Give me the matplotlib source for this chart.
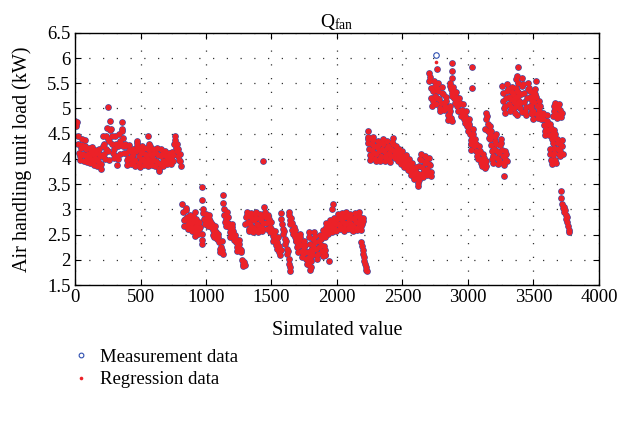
import numpy as np
import matplotlib
matplotlib.use("Agg")
import matplotlib.pyplot as plt
from matplotlib.lines import Line2D

plt.rcParams['font.family'] = ['Liberation Serif', 'DejaVu Serif']
plt.rcParams['mathtext.fontset'] = 'custom'
plt.rcParams['mathtext.rm'] = 'Liberation Serif'
plt.rcParams['mathtext.it'] = 'Liberation Serif:italic'

STEP = 5  # spacing of listed samples along the x axis

# ---- data (y values, kW) ----
seg_a = [4.76, 4.70, 4.66, 4.73,
         4.45, 4.30, 4.12, 3.98, 4.05, 4.22, 4.40, 4.28, 4.10, 3.96, 4.08, 4.25, 4.38, 4.20, 4.02, 3.94, 4.10,
         4.22, 4.05, 3.92, 4.00, 4.15, 4.24, 4.10, 3.95, 3.88, 4.02, 4.18, 4.12, 3.97, 3.86, 3.95, 4.10, 4.20, 4.05, 3.90, 3.80,
         4.05, 4.25, 4.45, 4.30, 4.10, 4.00,
         4.20, 4.45, 4.62, 4.40, 4.15, 4.35, 4.58, 4.75, 4.60, 4.45, 4.30, 4.12, 4.02,
         4.20, 4.45, 4.30, 4.05, 3.88, 4.00, 4.25, 4.50, 4.35, 4.10,
         4.30, 4.55, 4.60, 4.42, 4.25, 4.12, 4.30,
         4.25, 4.12, 3.98, 3.88, 4.02, 4.18, 4.28, 4.15, 4.00, 3.90, 4.05, 4.20, 4.10, 3.95, 3.86, 3.98, 4.15, 4.25,
         4.32, 4.20, 4.05, 3.92, 3.84, 3.98, 4.12, 4.25, 4.15, 4.00, 3.88, 3.95, 4.10, 4.22, 4.08, 3.92,
         3.86, 4.00, 4.18, 4.25, 4.10, 3.95, 3.88, 4.05, 4.20, 4.12, 3.98, 3.86, 3.95, 4.12, 4.22,
         4.08, 3.92, 3.80, 3.76, 3.90, 4.05, 4.20, 4.10, 3.95, 3.85,
         3.95, 4.08, 4.15, 4.05, 3.92, 3.90, 4.00, 4.12, 4.06, 3.95, 3.90, 4.02, 4.14, 4.08, 3.96,
         4.30, 4.45, 4.38, 4.22, 4.15, 4.30, 4.20, 4.05, 3.98, 4.10, 3.95, 3.86]
seg_b = [3.10, 2.95, 2.78, 2.68, 2.80, 2.98, 3.02, 2.85, 2.70,
         2.62, 2.75, 2.88, 2.80, 2.66, 2.58, 2.72, 2.86,
         2.78, 2.64, 2.55, 2.68, 2.80, 2.72, 2.60, 2.52, 2.62, 2.74, 2.66]
seg_c = [3.00, 2.92, 2.80, 2.70, 2.78, 2.90, 2.85, 2.72, 2.68, 2.80, 2.88, 2.76, 2.66, 2.72,
         2.70, 2.60, 2.50, 2.45, 2.58, 2.68, 2.55, 2.45, 2.42, 2.52,
         2.45, 2.35, 2.22, 2.15, 2.25, 2.38, 2.20, 2.12]
seg_d = [3.00, 2.88, 2.75, 2.68, 2.80, 2.95, 2.85, 2.72,
         2.65, 2.55, 2.45, 2.52, 2.65, 2.70, 2.58, 2.46, 2.40, 2.50,
         2.44, 2.35, 2.25, 2.18, 2.28, 2.40, 2.32, 2.22, 2.16, 2.20,
         2.00, 1.92, 1.88, 1.95, 1.90]
seg_e = [2.70, 2.85, 2.95, 2.88, 2.75, 2.62, 2.58, 2.70, 2.85, 2.92, 2.80, 2.66, 2.56, 2.64, 2.78,
         2.90, 2.95, 2.82, 2.70, 2.60, 2.55, 2.68, 2.82, 2.90, 2.78, 2.64, 2.58, 2.72, 2.86]
seg_f = [3.05, 2.95, 2.85, 2.72, 2.62, 2.75, 2.88, 2.80, 2.66, 2.56, 2.62, 2.74,
         2.60, 2.48, 2.38, 2.50, 2.58, 2.42, 2.30, 2.22, 2.35, 2.45, 2.28, 2.15, 2.10, 2.20]
seg_g = [2.92, 2.80, 2.70, 2.62, 2.52, 2.58, 2.42, 2.32, 2.38, 2.22, 2.12, 2.18, 2.02, 1.92, 1.85, 1.78]
seg_h = [2.95, 2.88, 2.78, 2.70, 2.82, 2.72, 2.60, 2.52, 2.65, 2.55, 2.45, 2.38, 2.50, 2.42, 2.32, 2.28, 2.40]
seg_i = [2.60, 2.50, 2.38, 2.25, 2.15, 2.28, 2.40, 2.52, 2.45, 2.30, 2.18, 2.05, 2.12, 2.25, 2.38, 2.30,
         2.15, 2.02, 1.92, 2.00, 2.15, 2.05, 1.90, 1.80, 1.85, 1.98, 2.10]
seg_j = [2.55, 2.45, 2.32, 2.20, 2.08, 2.15, 2.28, 2.42, 2.55, 2.48, 2.35, 2.22, 2.10, 2.02, 2.12, 2.25,
         2.38, 2.50, 2.42, 2.30, 2.18, 2.08, 2.15, 2.28, 2.20, 2.10]
seg_k = [2.45, 2.52, 2.60, 2.50, 2.46, 2.55, 2.65, 2.72, 2.60, 2.52, 2.58, 2.68, 2.78, 2.70, 2.60, 2.56,
         2.66, 2.76, 2.82, 2.72, 2.62, 2.58, 2.70, 2.80]
seg_l = [2.90, 2.82, 2.70, 2.62, 2.68, 2.80, 2.92, 2.88, 2.75, 2.64, 2.58, 2.70, 2.84, 2.95, 2.86, 2.72,
         2.62, 2.66, 2.78, 2.90, 2.82, 2.70, 2.60, 2.57, 2.68, 2.80, 2.92, 2.85, 2.74, 2.64, 2.60, 2.72,
         2.86, 2.94, 2.80, 2.68, 2.60, 2.70, 2.82, 2.76]
seg_m = [2.35, 2.28, 2.20, 2.12, 2.05, 1.98, 1.92, 1.86, 1.80, 1.78]
seg_n = [4.40, 4.32, 4.20, 4.08, 3.98, 4.05, 4.18, 4.30, 4.38, 4.25, 4.12, 4.00, 3.96, 4.10, 4.24, 4.35,
         4.28, 4.15, 4.02, 3.95, 4.05, 4.20, 4.32, 4.40, 4.30, 4.16, 4.04, 3.96, 4.08, 4.22, 4.36, 4.26,
         4.12, 4.00, 3.94, 4.06, 4.20, 4.34, 4.42, 4.30, 4.15, 4.02, 4.10]
seg_o = [4.25, 4.15, 4.02, 3.95, 4.08, 4.20, 4.12, 3.98, 3.90, 4.02, 4.15, 4.05, 3.92, 3.84, 3.96, 4.08,
         3.98, 3.86, 3.78, 3.90, 4.00, 3.88, 3.76, 3.68, 3.80, 3.92, 3.82, 3.70, 3.60, 3.72, 3.84, 3.74,
         3.62, 3.52, 3.46, 3.58, 3.68]
seg_p = [3.70, 3.85, 4.00, 4.10, 3.98, 3.84, 3.72, 3.65, 3.78, 3.92, 4.05, 3.95, 3.80, 3.68, 3.75, 3.90,
         4.02, 3.88, 3.74, 3.66]
seg_q = [5.55, 5.70, 5.62, 5.40, 5.20, 5.05, 5.15, 5.35, 5.55, 5.45, 5.25, 5.08, 5.20,
         5.40, 5.50, 5.35, 5.18, 5.00, 4.95, 5.10, 5.30, 5.42, 5.28, 5.10, 4.98, 5.05, 5.22,
         5.15, 5.00, 4.88, 4.78, 4.90, 5.05, 4.95, 4.82, 4.76]
seg_r = [5.45, 5.50, 5.38, 5.25, 5.30, 5.42, 5.35, 5.20, 5.10, 5.22, 5.32, 5.18, 5.05, 4.95, 5.08, 5.20,
         5.10, 4.96, 4.85, 4.98, 5.08, 4.92, 4.80, 4.72, 4.85, 4.95, 4.80, 4.65, 4.55, 4.70]
seg_s = [4.80, 4.65, 4.50, 4.38, 4.30, 4.45, 4.60, 4.50, 4.35, 4.25, 4.40, 4.30, 4.15, 4.05, 4.00, 4.12,
         4.25, 4.15, 4.00, 3.92, 3.85, 3.98, 4.10, 4.02, 3.90, 3.82, 3.86, 3.95]
seg_t = [4.60, 4.80, 4.92, 4.85, 4.70, 4.55, 4.42, 4.50, 4.65, 4.55, 4.45]
seg_u = [4.40, 4.28, 4.15, 4.00, 3.92, 4.05, 4.20, 4.35, 4.45, 4.30, 4.15, 4.02, 3.90, 3.98, 4.12, 4.28,
         4.40, 4.32, 4.18, 4.05, 3.92, 3.88, 4.00, 4.15, 4.10, 3.95]
seg_v = [5.45, 5.30, 5.15, 5.00, 4.92, 5.05, 5.20, 5.35, 5.48, 5.38, 5.22, 5.08, 4.95, 5.02, 5.18, 5.32,
         5.42, 5.28, 5.12, 5.00, 4.92, 5.05, 5.22, 5.35, 5.25, 5.10]
seg_w = [5.20, 5.40, 5.58, 5.65, 5.50, 5.32, 5.15, 5.00, 5.10, 5.28, 5.45, 5.60, 5.48, 5.30, 5.12, 4.95,
         4.88, 5.02, 5.20, 5.38, 5.50, 5.40, 5.22, 5.05, 4.92, 5.00, 5.15, 5.30, 5.22]
seg_x = [5.35, 5.20, 5.05, 4.90, 4.80, 4.95, 5.12, 5.28, 5.38, 5.22, 5.05, 4.90, 4.82, 4.98, 5.15, 5.05,
         4.90, 4.80, 4.85, 4.92, 4.80, 4.68, 4.55, 4.48, 4.60, 4.75, 4.88, 4.70, 4.58, 4.48, 4.60, 4.70,
         4.62, 4.50, 4.40, 4.32, 4.45, 4.58, 4.50]
seg_y = [4.85, 4.95, 5.05, 5.10, 5.02, 4.90, 4.82, 4.88, 5.00, 5.08, 4.98, 4.88, 4.84, 4.92]
seg_z1 = [4.20, 4.10, 3.98, 3.90, 3.95, 4.08, 4.22, 4.12, 3.98, 3.92]
seg_z2 = [4.40, 4.32, 4.20, 4.10, 4.05, 4.15, 4.28, 4.38, 4.25, 4.10]
seg_z3 = [3.10, 3.02, 2.95, 3.05, 2.98, 2.88, 2.80, 2.85, 2.75, 2.68, 2.60, 2.56]

seg_values = [seg_a, seg_b, seg_c, seg_d, seg_e, seg_f, seg_g, seg_h, seg_i, seg_j, seg_k, seg_l, seg_m,
              seg_n, seg_o, seg_p, seg_q, seg_r, seg_s, seg_t, seg_u, seg_v, seg_w, seg_x, seg_y,
              seg_z1, seg_z2, seg_z3]
seg_starts = [0, 820, 975, 1135, 1300, 1445, 1570, 1630, 1680, 1785, 1885, 2005, 2185,
              2235, 2450, 2625, 2700, 2860, 3005, 3130, 3170, 3260, 3360, 3475, 3650,
              3625, 3680, 3720]

# isolated points (both series)
iso_x = [255, 258, 357, 475, 560, 565, 916, 916, 970, 970, 968, 968, 972, 1131, 1131, 1438,
         1909, 1939, 1972, 1962, 2234, 2240, 2278, 2760, 2875, 2875, 2875, 3028, 3028, 3022, 3025,
         3218, 3277, 3371, 3409, 3384, 3519, 3714, 3714]
iso_y = [5.03, 3.97, 4.73, 4.35, 4.45, 4.30, 2.95, 2.47, 3.45, 3.18, 2.52, 2.40, 2.32, 3.29, 3.13, 3.96,
         2.09, 1.98, 3.10, 3.00, 4.55, 4.44, 4.44, 5.78, 5.90, 5.75, 5.60, 5.83, 5.41, 4.30, 4.18,
         4.50, 3.66, 4.87, 4.94, 5.83, 5.54, 3.37, 3.23]
# point where measurement and regression differ
meas_only_x, meas_only_y = [2756], [6.06]
regr_only_x, regr_only_y = [2756], [5.93]

# ---- assemble ----
xs, ys = [], []
for start, vals in zip(seg_starts, seg_values):
    xs.extend(start + STEP * np.arange(len(vals)))
    ys.extend(vals)
xs.extend(iso_x)
ys.extend(iso_y)
meas_x = np.array(xs + meas_only_x)
meas_y = np.array(ys + meas_only_y)
regr_x = np.array(xs)
regr_y = np.array(ys)

BLUE = '#2f4fb0'
RED = '#ec2128'

fig = plt.figure(figsize=(6.2, 4.21), dpi=100)
ax = fig.add_axes([0.121, 0.323, 0.845, 0.599])
ax.set_axisbelow(True)

ax.plot(meas_x, meas_y, linestyle='none', marker='o', markersize=4.0,
        markerfacecolor='none', markeredgecolor=BLUE, markeredgewidth=0.8)
ax.plot(regr_x, regr_y, linestyle='none', marker='o', markersize=4.05,
        markerfacecolor=RED, markeredgecolor='none')
ax.plot(regr_only_x, regr_only_y, linestyle='none', marker='o', markersize=2.6,
        markerfacecolor=RED, markeredgecolor='none')

ax.set_xlim(0, 4000)
ax.set_ylim(1.5, 6.5)
ax.set_xticks(np.arange(0, 4001, 500))
ax.set_yticks(np.arange(1.5, 6.51, 0.5))
ax.set_yticklabels(['1.5', '2', '2.5', '3', '3.5', '4', '4.5', '5', '5.5', '6', '6.5'])
ax.tick_params(direction='in', top=True, right=True, labelsize=13.5, length=4, width=0.8, pad=3)
ax.grid(True, linestyle=(0, (1, 10)), color='#333333', linewidth=0.9)
for s in ax.spines.values():
    s.set_linewidth(1.0)

ax.set_title(r'Q$_{\mathrm{fan}}$', fontsize=14, pad=4)
ax.set_xlabel('Simulated value', fontsize=14.5, labelpad=11)
ax.set_ylabel('Air handling unit load (kW)', fontsize=14.5, labelpad=11)

handles = [Line2D([], [], linestyle='none', marker='o', markersize=3.4, markerfacecolor='none',
                  markeredgecolor=BLUE, markeredgewidth=0.8),
           Line2D([], [], linestyle='none', marker='o', markersize=2.6, markerfacecolor=RED,
                  markeredgecolor='none')]
fig.legend(handles, ['Measurement data', 'Regression data'], loc='upper left',
           bbox_to_anchor=(0.105, 0.19), frameon=False, fontsize=13.5,
           handlelength=0.9, handletextpad=0.55, labelspacing=0.3, borderaxespad=0)

fig.savefig('out.png', dpi=100)
